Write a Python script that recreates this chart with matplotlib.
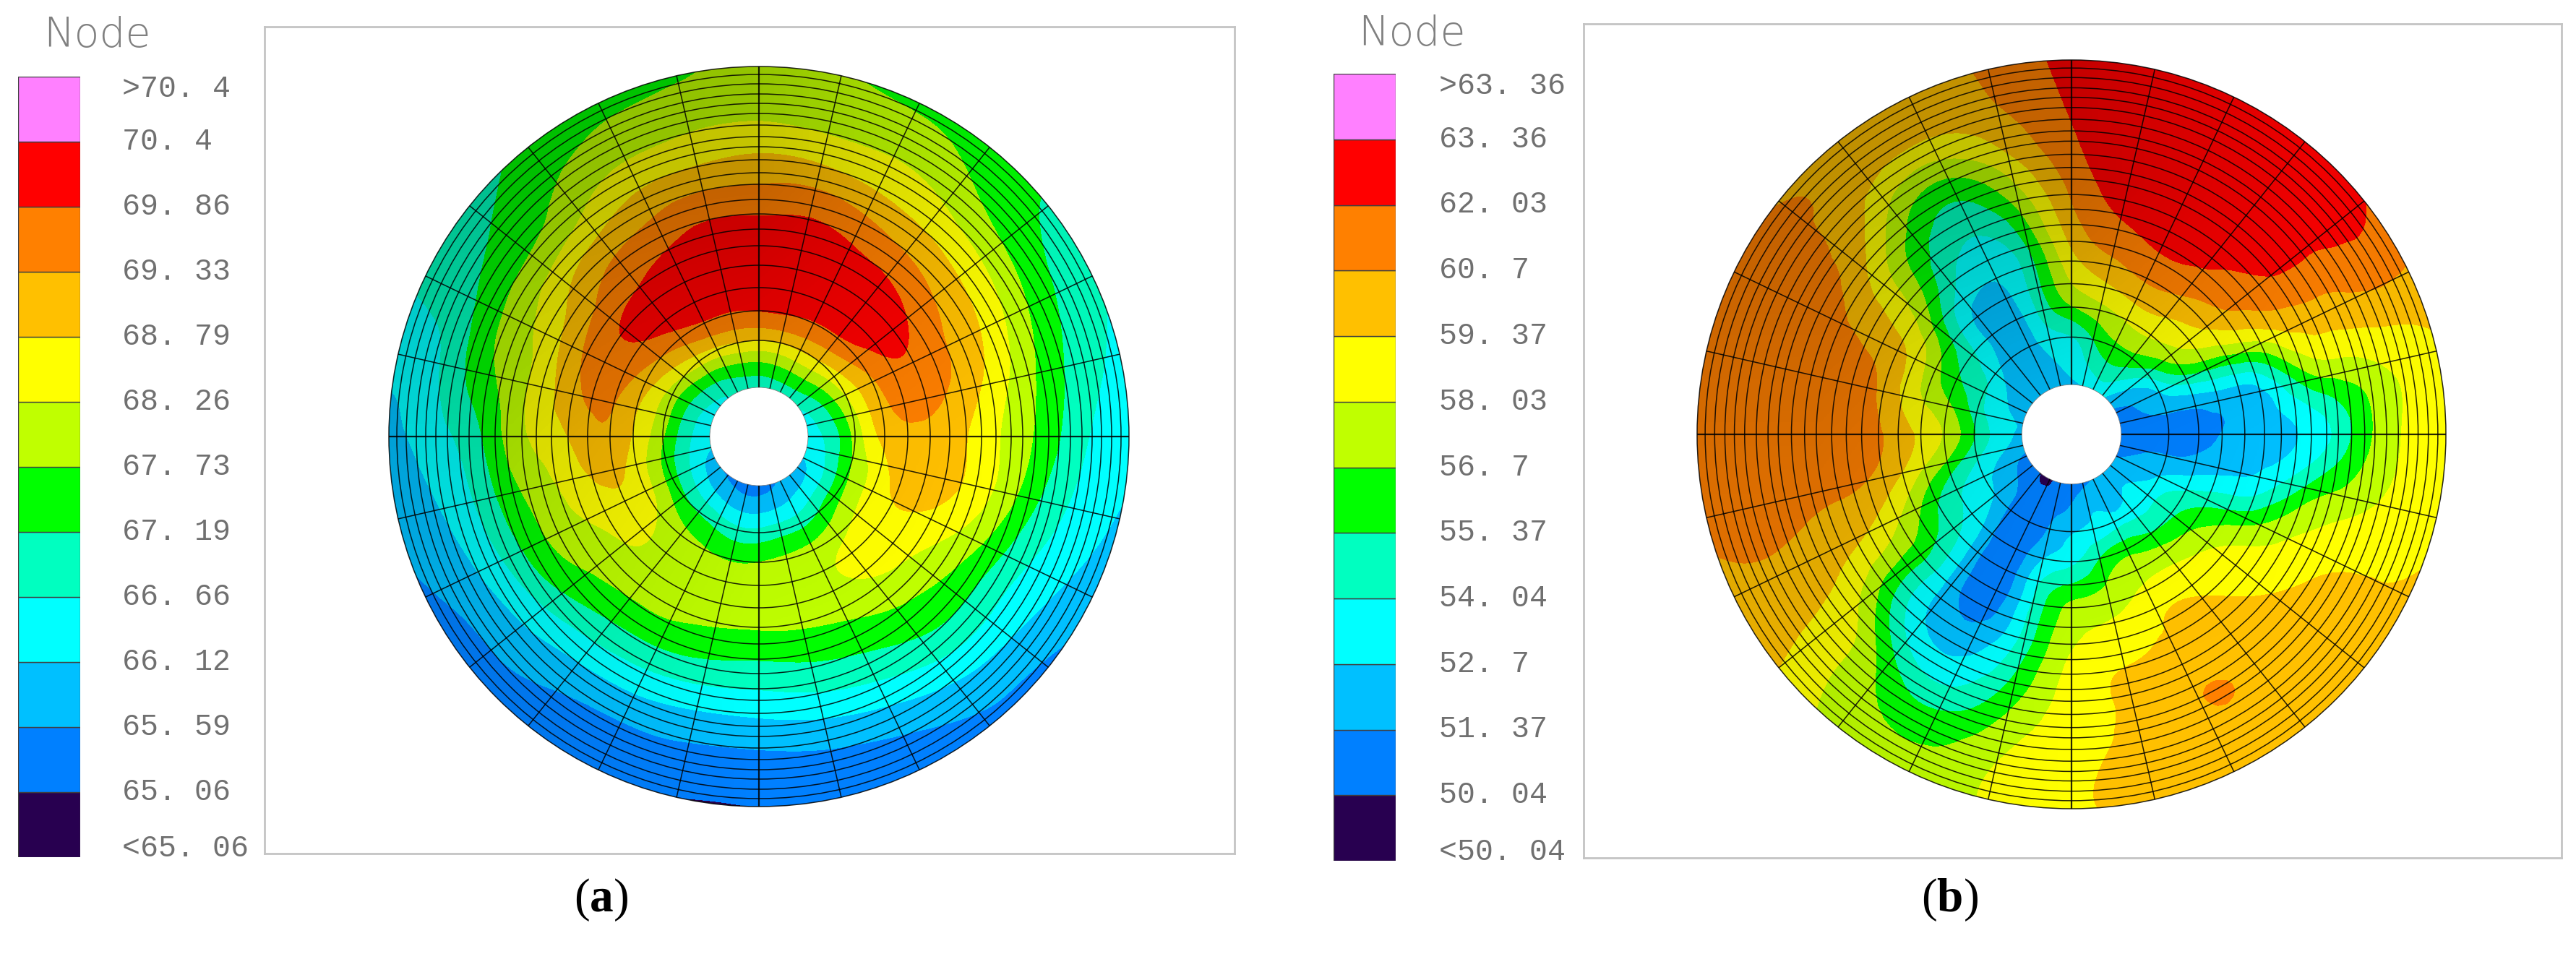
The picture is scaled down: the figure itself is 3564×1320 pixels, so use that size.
"""
Two nodal temperature contour plots on a polar disc mesh, (a) and (b).
Node values read off the picture on a coarse mesh, refined by matplotlib.tri.
"""
import numpy as np
import matplotlib
matplotlib.use('Agg')
import matplotlib.pyplot as plt
from matplotlib.colors import LinearSegmentedColormap
from matplotlib.patches import Circle
from matplotlib.tri import Triangulation, UniformTriRefiner

plt.rcParams['mathtext.fontset'] = 'custom'
plt.rcParams['mathtext.rm'] = 'Liberation Serif'
plt.rcParams['mathtext.bf'] = 'Liberation Serif:bold'

W, H = 3564, 1320

# legend, low to high
band_colors = ['#280050', '#0080ff', '#00c0ff', '#00ffff', '#00ffc0', '#00ff00',
               '#c0ff00', '#ffff00', '#ffc000', '#ff8000', '#ff0000', '#ff80ff']
levels_a = [65.06, 65.59, 66.12, 66.66, 67.19, 67.73, 68.26, 68.79, 69.33, 69.86, 70.4]
levels_b = [50.04, 51.37, 52.7, 54.04, 55.37, 56.7, 58.03, 59.37, 60.7, 62.03, 63.36]
labels_a = ['>70. 4', '70. 4', '69. 86', '69. 33', '68. 79', '68. 26', '67. 73',
            '67. 19', '66. 66', '66. 12', '65. 59', '65. 06', '<65. 06']
labels_b = ['>63. 36', '63. 36', '62. 03', '60. 7', '59. 37', '58. 03', '56. 7',
            '55. 37', '54. 04', '52. 7', '51. 37', '50. 04', '<50. 04']

# mesh lines
spoke_count = 28
ring_radii = [133, 174, 206, 237, 264, 287, 308, 328, 349, 365, 383, 401, 415, 431,
              447, 461, 474, 488, 501, 512]

# where the node values below sit: radius on the 512 disc, angle in degrees
node_radii = [66, 105, 133, 174, 220, 264, 328, 383, 447, 517]
node_angles = list(range(0, 360, 15))

temps_a = [
    [66.40, 67.00, 67.89, 68.96, 69.28, 69.07, 68.32, 67.68, 66.77, 66.29],
    [66.45, 67.20, 68.10, 69.17, 69.52, 69.39, 68.69, 67.92, 67.06, 66.58],
    [66.56, 67.45, 68.35, 69.33, 69.87, 69.63, 68.98, 68.26, 67.36, 66.82],
    [66.77, 67.75, 68.64, 69.71, 70.19, 69.97, 69.20, 68.48, 67.68, 67.30],
    [66.82, 67.89, 68.82, 69.81, 70.24, 70.08, 69.41, 68.66, 68.10, 67.52],
    [66.82, 67.84, 68.80, 69.87, 70.24, 70.19, 69.65, 68.82, 68.10, 67.73],
    [66.77, 67.78, 68.77, 69.87, 70.24, 70.19, 69.60, 68.90, 68.16, 67.89],
    [66.82, 67.73, 68.74, 69.81, 70.24, 70.16, 69.60, 68.80, 68.10, 67.62],
    [66.66, 67.57, 68.58, 69.76, 70.19, 70.00, 69.36, 68.66, 67.97, 67.46],
    [66.50, 67.40, 68.37, 69.44, 70.08, 69.79, 69.07, 68.18, 67.52, 67.14],
    [66.40, 67.20, 68.05, 69.12, 69.68, 69.49, 68.56, 67.92, 67.17, 66.82],
    [66.31, 67.05, 67.92, 68.85, 69.47, 69.20, 68.26, 67.68, 66.77, 66.40],
    [66.29, 66.93, 67.78, 68.74, 69.23, 68.80, 68.16, 67.20, 66.45, 65.91],
    [66.07, 66.77, 67.52, 68.53, 68.88, 68.50, 67.81, 66.98, 66.13, 65.67],
    [65.70, 66.60, 67.38, 68.40, 68.53, 68.18, 67.65, 66.77, 65.89, 65.41],
    [65.54, 66.40, 67.18, 68.00, 68.21, 67.97, 67.28, 66.45, 65.73, 65.25],
    [65.43, 66.23, 67.04, 67.80, 68.00, 67.89, 67.12, 66.31, 65.51, 65.17],
    [65.33, 66.07, 66.82, 67.68, 68.08, 67.81, 67.04, 66.21, 65.49, 65.06],
    [65.33, 66.07, 66.82, 67.73, 68.13, 67.78, 66.96, 66.21, 65.46, 65.05],
    [65.49, 66.18, 66.95, 67.84, 68.16, 67.84, 67.12, 66.40, 65.57, 65.17],
    [65.65, 66.34, 67.04, 67.94, 68.24, 67.97, 67.30, 66.64, 65.78, 65.33],
    [65.75, 66.56, 67.36, 68.21, 68.58, 68.21, 67.57, 66.93, 66.05, 65.46],
    [66.02, 66.72, 67.57, 68.42, 68.72, 68.48, 67.81, 66.96, 66.23, 65.65],
    [66.23, 66.90, 67.73, 68.58, 69.17, 69.01, 68.29, 67.38, 66.53, 66.00],
]

temps_b = [
    [50.44, 50.51, 50.64, 50.97, 51.57, 52.10, 53.10, 55.37, 57.90, 58.96],
    [50.84, 51.31, 51.64, 51.90, 52.30, 52.84, 56.50, 57.77, 58.56, 59.30],
    [51.24, 51.90, 53.24, 55.90, 57.23, 58.56, 60.43, 60.83, 61.36, 61.10],
    [52.30, 53.90, 55.63, 57.90, 59.50, 60.96, 62.23, 62.96, 62.83, 62.43],
    [53.24, 55.10, 56.43, 58.30, 60.30, 61.76, 62.83, 63.09, 63.09, 62.96],
    [52.70, 54.44, 55.63, 57.63, 59.76, 61.23, 62.56, 62.96, 63.03, 62.96],
    [52.30, 53.37, 53.97, 56.57, 58.37, 59.63, 60.83, 61.63, 62.16, 62.43],
    [51.77, 52.57, 53.24, 54.17, 54.44, 54.84, 56.57, 58.43, 60.16, 60.76],
    [51.51, 51.64, 51.64, 51.77, 52.30, 53.24, 54.70, 56.30, 59.23, 60.03],
    [51.37, 51.77, 52.44, 53.24, 53.90, 55.77, 57.10, 58.83, 60.25, 60.20],
    [51.64, 52.84, 54.04, 55.23, 57.50, 59.23, 60.16, 61.10, 60.96, 60.83],
    [52.57, 53.24, 54.57, 56.70, 58.30, 60.30, 61.23, 61.36, 61.23, 61.16],
    [52.30, 53.64, 55.43, 57.90, 59.50, 60.83, 61.36, 61.43, 61.36, 61.23],
    [51.77, 52.97, 54.04, 56.03, 58.17, 59.90, 60.76, 60.96, 61.10, 60.83],
    [50.84, 51.90, 52.97, 54.04, 55.77, 57.50, 58.83, 59.63, 60.03, 60.16],
    [50.57, 51.37, 51.90, 52.84, 53.64, 54.04, 54.44, 56.83, 57.97, 58.43],
    [49.51, 50.44, 50.30, 50.30, 50.30, 50.71, 52.17, 53.90, 56.17, 57.10],
    [50.30, 50.84, 51.24, 52.30, 53.37, 53.64, 54.70, 56.03, 57.50, 57.97],
    [50.17, 51.64, 52.57, 53.70, 56.30, 57.50, 58.43, 58.70, 59.10, 59.23],
    [51.11, 52.57, 53.10, 55.63, 57.10, 58.30, 59.43, 59.76, 59.83, 59.76],
    [51.51, 52.17, 53.37, 56.03, 57.90, 59.23, 59.76, 60.62, 60.45, 59.76],
    [51.77, 52.84, 53.64, 55.23, 57.50, 58.70, 59.50, 59.76, 59.76, 59.70],
    [51.37, 52.04, 53.10, 54.57, 55.90, 57.10, 58.43, 59.30, 59.50, 59.50],
    [50.84, 51.44, 51.64, 52.04, 52.70, 53.24, 56.03, 57.50, 58.56, 59.10],
]

# the screenshot is lit from the lower right: darkening over the disc, top row first
shade = [[0.25, 0.23, 0.06],
         [0.16, 0.05, 0.00],
         [0.08, 0.00, 0.00]]
dark = LinearSegmentedColormap.from_list('dark', [(0, 0, 0, 0), (0, 0, 0, 1)])

fig = plt.figure(figsize=(W / 100, H / 100), dpi=100)


def px_axes(left, top, right, bottom):
    return fig.add_axes([left / W, 1 - bottom / H, (right - left) / W, (bottom - top) / H])


def draw_legend(left, right, top, bottom, label_x, node_x, node_y, labels):
    ax = px_axes(left, top, right, bottom)
    for i, c in enumerate(band_colors):
        ax.bar(0, 1, bottom=i, width=1, color=c, edgecolor='#404040', linewidth=1)
    ax.set_xlim(-0.5, 0.5)
    ax.set_ylim(0, len(band_colors))
    ax.axis('off')
    cell = (bottom - top) / 12
    for k, lab in enumerate(labels):
        y = top + k * cell
        if k == 0:
            y += 17
        if k == 12:
            y -= 12
        fig.text(label_x / W, 1 - y / H, lab, family='Liberation Mono', fontsize=30,
                 color='#707070', ha='left', va='center')
    fig.text(node_x / W, 1 - node_y / H, 'Node', family='DejaVu Sans', fontsize=41,
             fontweight='ultralight', color='#808080', ha='left', va='center')


def draw_disc(box, cx, cy, radius, temps, levels):
    left, top, right, bottom = box
    ax = px_axes(left, top, right, bottom)
    ax.set_xlim(left - cx, right - cx)
    ax.set_ylim(cy - bottom, cy - top)
    ax.set_xticks([])
    ax.set_yticks([])
    for s in ax.spines.values():
        s.set_color('#c4c4c4')
        s.set_linewidth(2)

    scale = radius / 512
    rr, tt = np.meshgrid(np.array(node_radii) * scale, np.radians(node_angles))
    x, y = rr * np.cos(tt), rr * np.sin(tt)
    nt, nr = rr.shape
    tris = []
    for j in range(nt):
        j2 = (j + 1) % nt
        for i in range(nr - 1):
            a, b, c, d = j * nr + i, j * nr + i + 1, j2 * nr + i + 1, j2 * nr + i
            tris += [[a, b, c], [a, c, d]]
    tri = Triangulation(x.ravel(), y.ravel(), np.array(tris))
    fine, fine_t = UniformTriRefiner(tri).refine_field(np.array(temps).ravel(), subdiv=3)

    lv = [min(levels) - 20] + list(levels) + [max(levels) + 20]
    disc = Circle((0, 0), radius, transform=ax.transData)
    cs = ax.tricontourf(fine, fine_t, levels=lv, colors=band_colors)
    cs.set_clip_path(disc)

    im = ax.imshow(shade, cmap=dark, vmin=0, vmax=1, interpolation='bilinear', aspect='auto',
                   extent=(-radius, radius, -radius, radius), zorder=2)
    im.set_clip_path(disc)
    ax.set_xlim(left - cx, right - cx)
    ax.set_ylim(cy - bottom, cy - top)

    hole = 68 * scale
    ax.add_patch(Circle((0, 0), hole, fc='white', ec='#808080', lw=0.6, zorder=3))
    for r in ring_radii:
        ax.add_patch(Circle((0, 0), r * scale, fc='none', ec='black', lw=1.1, alpha=0.85, zorder=4))
    for k in range(spoke_count):
        t = 2 * np.pi * k / spoke_count
        lw = 1.6 if k % 7 == 0 else 1.1
        ax.plot([hole * np.cos(t), radius * np.cos(t)], [hole * np.sin(t), radius * np.sin(t)],
                color='black', lw=lw, alpha=0.85, zorder=4, solid_capstyle='butt')


draw_legend(25, 111, 106, 1186, 169, 60, 49, labels_a)
draw_disc((366, 37, 1708, 1181), 1050, 604, 512, temps_a, levels_a)
draw_legend(1845, 1931, 102, 1191, 1991, 1879, 47, labels_b)
draw_disc((2191, 33, 3544, 1187), 2866, 601, 518, temps_b, levels_b)

fig.text(832 / W, 1 - 1245 / H, r'($\mathbf{a}$)', family='Liberation Serif', fontsize=47,
         color='black', ha='center', va='center')
fig.text(2697 / W, 1 - 1245 / H, r'($\mathbf{b}$)', family='Liberation Serif', fontsize=47,
         color='black', ha='center', va='center')

fig.savefig('out.png', dpi=100)
